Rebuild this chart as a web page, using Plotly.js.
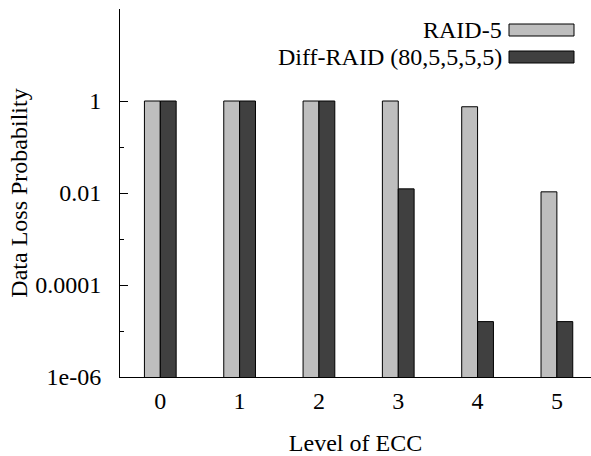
<!DOCTYPE html>
<html>
<head>
<meta charset="utf-8">
<script src="https://cdn.plot.ly/plotly-3.0.1.min.js"></script>
<style>html,body{margin:0;padding:0;background:#fff;}#chart{width:591px;height:456px;}</style>
</head>
<body>
<div id="chart"></div>
<script>
const categories = ["0", "1", "2", "3", "4", "5"];
const seriesNames = ["RAID-5", "Diff-RAID (80,5,5,5,5)"];
const raid5 = [1, 1, 1, 1, 0.75, 0.0106];
const diffRaid = [1, 1, 1, 0.0123, 1.6e-5, 1.6e-5];
const yTickVals = [1e-6, 1e-4, 0.01, 1];
const yTickText = ["1e-06", "0.0001", "0.01", "1"];
const colors = ["#bebebe", "#404040"];

const FONT = "Liberation Serif";
const FS = 24;
const L = 120, R = 0, T = 9, B = 79, W = 591, H = 456;
const pw = W - L - R, ph = H - T - B;
const px = v => (v - L) / pw;
const py = v => (H - B - v) / ph;

const traces = [raid5, diffRaid].map((vals, i) => ({
  type: "bar",
  x: categories,
  y: vals,
  name: seriesNames[i],
  marker: {color: colors[i], line: {color: "#000", width: 1}},
  showlegend: false,
  hoverinfo: "x+y"
}));

const legendRows = [30, 57];
const shapes = [];
const annotations = [];
seriesNames.forEach((n, i) => {
  const yc = legendRows[i];
  shapes.push({type: "rect", xref: "paper", yref: "paper",
    x0: px(509), x1: px(574), y0: py(yc - 6), y1: py(yc + 6),
    fillcolor: colors[i], line: {color: "#000", width: 1}});
  annotations.push({xref: "paper", yref: "paper", x: px(504), y: py(yc),
    xanchor: "right", yanchor: "middle", text: n, showarrow: false,
    font: {family: FONT, size: FS, color: "#000"}});
});

const layout = {
  width: W, height: H,
  margin: {l: L, r: R, t: T, b: B, pad: 0},
  paper_bgcolor: "#fff", plot_bgcolor: "#fff",
  font: {family: FONT, size: FS, color: "#000"},
  barmode: "group",
  bargap: 0.6,
  bargroupgap: 0,
  showlegend: false,
  xaxis: {
    type: "category",
    range: [-0.508, 5.43],
    showline: true, linecolor: "#000", linewidth: 1,
    ticks: "", showgrid: false, zeroline: false,
    ticklabelstandoff: 2,
    tickfont: {family: FONT, size: FS, color: "#000"},
    title: {text: "Level of ECC", font: {family: FONT, size: FS, color: "#000"}, standoff: 28}
  },
  yaxis: {
    type: "log",
    range: [-6, 2],
    showline: true, linecolor: "#000", linewidth: 1,
    showgrid: false, zeroline: false,
    ticks: "inside", ticklen: 8, tickcolor: "#000", tickwidth: 1,
    tickvals: yTickVals, ticktext: yTickText,
    ticklabelstandoff: 13,
    minor: {ticks: "inside", ticklen: 4, tickcolor: "#000", tickvals: [1e-5, 1e-3, 0.1], showgrid: false},
    tickfont: {family: FONT, size: FS, color: "#000"},
    title: {text: "Data Loss Probability", font: {family: FONT, size: FS, color: "#000"}, standoff: 0}
  },
  shapes: shapes,
  annotations: annotations
};

Plotly.newPlot("chart", traces, layout, {displayModeBar: false, staticPlot: true});
</script>
</body>
</html>
